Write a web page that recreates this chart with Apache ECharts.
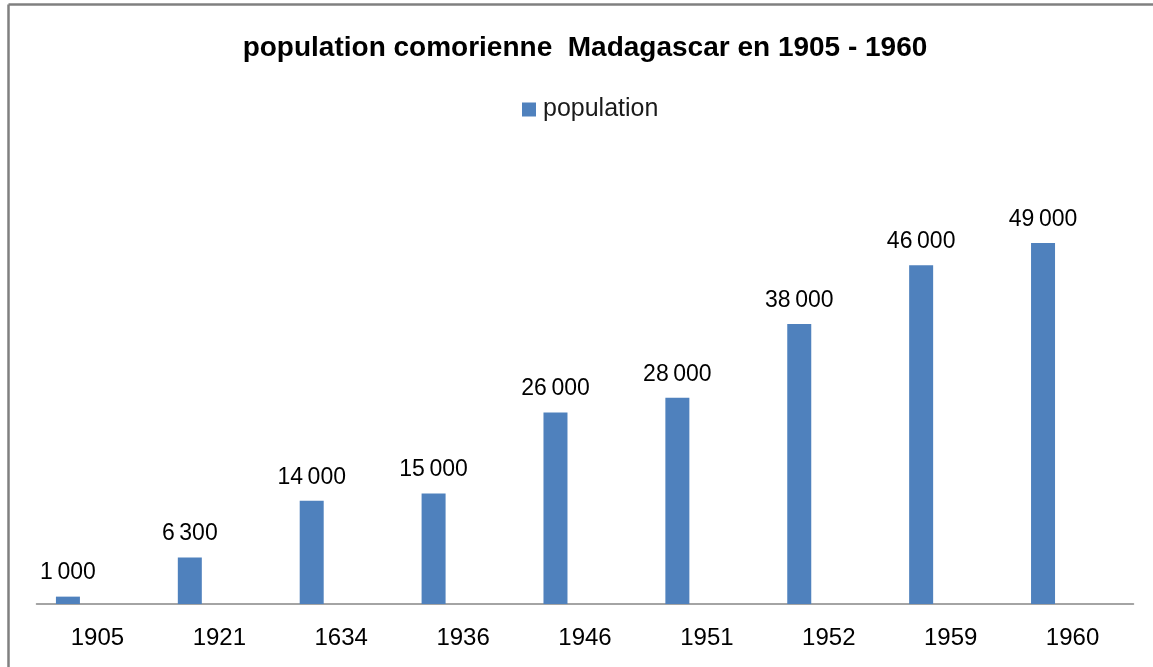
<!DOCTYPE html>
<html>
<head>
<meta charset="utf-8">
<script src="https://cdn.jsdelivr.net/npm/echarts@6/dist/echarts.min.js"></script>
<style>
html,body{margin:0;padding:0;background:#fff;}
#chart{width:1153px;height:667px;}
</style>
</head>
<body>
<div id="chart"></div>
<script>
const titleText = 'population comorienne  Madagascar en 1905 - 1960';
const seriesName = 'population';
const categories = ['1905', '1921', '1634', '1936', '1946', '1951', '1952', '1959', '1960'];
const populationValues = [1000, 6300, 14000, 15000, 26000, 28000, 38000, 46000, 49000];
const blankValues = categories.map(() => null);

function fmt(v) {
  return String(v).replace(/\B(?=(\d{3})+(?!\d))/g, '\u2009');
}

const chart = echarts.init(document.getElementById('chart'), null, {renderer: 'canvas'});
const font = '"Liberation Sans", Arial, sans-serif';
chart.setOption({
  backgroundColor: '#ffffff',
  animation: false,
  title: {
    text: titleText,
    left: 580,
    textAlign: 'center',
    top: 29,
    textStyle: {fontFamily: font, fontSize: 28, fontWeight: 'bold', color: '#000'}
  },
  legend: {
    data: [seriesName],
    left: 517,
    top: 92,
    itemWidth: 14,
    itemHeight: 14,
    icon: 'rect',
    textStyle: {fontFamily: font, fontSize: 25, color: '#1a1a1a', padding: [0, 0, 0, 2]}
  },
  grid: {left: 36.5, right: 19.5, top: 162, bottom: 63, containLabel: false},
  xAxis: {
    type: 'category',
    data: categories,
    axisLine: {show: true, lineStyle: {color: '#868686', width: 1.5}},
    axisTick: {show: false},
    axisLabel: {fontFamily: font, fontSize: 24, color: '#000', margin: 22, interval: 0}
  },
  yAxis: {
    type: 'value',
    min: 0,
    max: 60000,
    show: false,
    splitLine: {show: false}
  },
  series: [
    {
      name: seriesName,
      type: 'bar',
      data: populationValues,
      barWidth: 24,
      barGap: '146%',
      itemStyle: {color: '#4F81BD'},
      label: {
        show: true,
        position: 'top',
        distance: 12,
        fontFamily: font,
        fontSize: 23,
        color: '#000',
        formatter: p => fmt(p.value)
      }
    },
    {
      name: 'blank',
      type: 'bar',
      data: blankValues,
      barWidth: 24,
      itemStyle: {color: 'transparent'}
    }
  ],
  graphic: [
    {type: 'line', shape: {x1: 8.5, y1: 4.5, x2: 1153, y2: 4.5}, style: {stroke: '#808080', lineWidth: 2.5}},
    {type: 'line', shape: {x1: 8.5, y1: 4.5, x2: 8.5, y2: 667}, style: {stroke: '#808080', lineWidth: 2.5}}
  ]
});
</script>
</body>
</html>
